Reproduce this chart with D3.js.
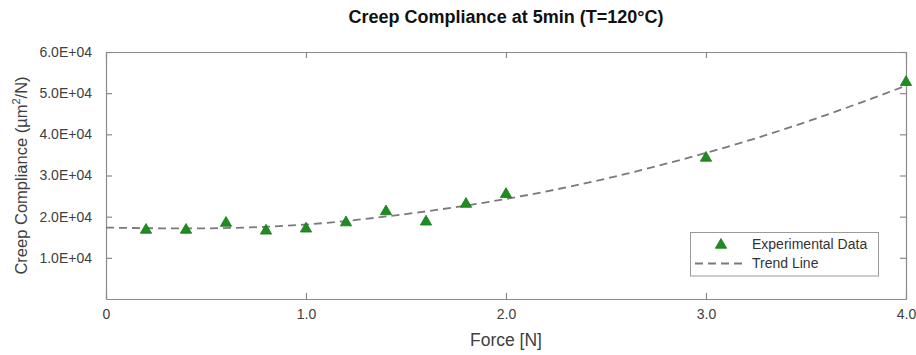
<!DOCTYPE html>
<meta charset="utf-8">
<style>
  body { margin: 0; background: #fff; }
  svg { display: block; font-family: "Liberation Sans", Arial, sans-serif; }
  .tick text { fill: #404040; font-size: 14px; }
</style>
<body>
<svg id="chart" width="916" height="355"></svg>
<script src="https://d3js.org/d3.v7.min.js"></script>
<script>
  // experimental points (force in N, compliance in um^2/N)
  const force = [0.2, 0.4, 0.6, 0.8, 1.0, 1.2, 1.4, 1.6, 1.8, 2.0, 3.0, 4.0];
  const compliance = [17000, 17000, 18700, 16800, 17300, 18800, 21500, 19000, 23300, 25700, 34500, 52900];

  // trend line
  const trendForce = [0, 0.5, 1.0, 1.5, 2.0, 2.5, 3.0, 3.5, 4.0];
  const trendCompliance = [17350, 17160, 18100, 20640, 24300, 29250, 35480, 43000, 51800];

  const xTicks = [0, 1, 2, 3, 4];
  const yTicks = [10000, 20000, 30000, 40000, 50000, 60000];

  const svg = d3.select("#chart");
  const m = { left: 106, right: 906, top: 52, bottom: 299 };

  const x = d3.scaleLinear().domain([0, 4]).range([m.left, m.right]);
  const y = d3.scaleLinear().domain([0, 60000]).range([m.bottom, m.top]);

  const axisColor = "#8a8a8a";
  const tickLen = 6;

  // axes (box with inward ticks, mirrored)
  const gx = svg.append("g").attr("transform", `translate(0,${m.bottom})`)
    .call(d3.axisBottom(x).tickValues(xTicks).tickSizeInner(-tickLen).tickSizeOuter(0).tickPadding(13)
      .tickFormat(d => d === 0 ? "0" : d.toFixed(1)));
  const gxTop = svg.append("g").attr("transform", `translate(0,${m.top})`)
    .call(d3.axisTop(x).tickValues(xTicks).tickSizeInner(-tickLen).tickSizeOuter(0).tickFormat(""));
  const gy = svg.append("g").attr("transform", `translate(${m.left},0)`)
    .call(d3.axisLeft(y).tickValues(yTicks).tickSizeInner(-tickLen).tickSizeOuter(0).tickPadding(14)
      .tickFormat(d => (d / 10000).toFixed(1) + "E+04"));
  const gyR = svg.append("g").attr("transform", `translate(${m.right},0)`)
    .call(d3.axisRight(y).tickValues(yTicks).tickSizeInner(-tickLen).tickSizeOuter(0).tickFormat(""));

  [gx, gxTop, gy, gyR].forEach(g => {
    g.select(".domain").attr("stroke", axisColor).attr("stroke-width", 1.2);
    g.selectAll(".tick line").attr("stroke", axisColor).attr("stroke-width", 1.2);
  });
  gx.selectAll(".tick text").attr("dy", "0.5em");

  // trend line
  const line = d3.line()
    .x((d, i) => x(trendForce[i]))
    .y(d => y(d))
    .curve(d3.curveNatural);

  svg.append("path")
    .datum(trendCompliance)
    .attr("d", line)
    .attr("fill", "none")
    .attr("stroke", "#7a7a7a")
    .attr("stroke-width", 1.8)
    .attr("stroke-dasharray", "8,5");

  // markers
  const tri = d3.symbol().type(d3.symbolTriangle).size(55);
  svg.append("g")
    .selectAll("path")
    .data(compliance)
    .join("path")
    .attr("transform", (d, i) => `translate(${x(force[i])},${y(d) + 1})`)
    .attr("d", tri)
    .attr("fill", "#1f8c22")
    .attr("stroke", "#187a1b")
    .attr("stroke-width", 0.8);

  // title and axis labels
  svg.append("text")
    .attr("x", (m.left + m.right) / 2).attr("y", 23)
    .attr("text-anchor", "middle")
    .attr("font-size", 18).attr("font-weight", "bold").attr("fill", "#111")
    .text("Creep Compliance at 5min (T=120°C)");

  svg.append("text")
    .attr("x", (m.left + m.right) / 2).attr("y", 346)
    .attr("text-anchor", "middle")
    .attr("font-size", 17.5).attr("fill", "#404040")
    .text("Force [N]");

  const yl = svg.append("text")
    .attr("transform", `translate(27,${(m.top + m.bottom) / 2}) rotate(-90)`)
    .attr("text-anchor", "middle")
    .attr("font-size", 16.5).attr("fill", "#404040");
  yl.append("tspan").text("Creep Compliance (µm");
  yl.append("tspan").attr("font-size", 11).attr("dy", -7).text("2");
  yl.append("tspan").attr("dy", 7).text("/N)");

  // legend
  const lg = svg.append("g");
  lg.append("rect")
    .attr("x", 690.5).attr("y", 232.5).attr("width", 188).attr("height", 43.5)
    .attr("fill", "#fff").attr("stroke", "#9a9a9a").attr("stroke-width", 1);
  lg.append("path")
    .attr("transform", "translate(721,245)")
    .attr("d", tri)
    .attr("fill", "#1f8c22").attr("stroke", "#187a1b").attr("stroke-width", 0.8);
  lg.append("line")
    .attr("x1", 695).attr("x2", 745).attr("y1", 263.5).attr("y2", 263.5)
    .attr("stroke", "#7a7a7a").attr("stroke-width", 1.8).attr("stroke-dasharray", "8,5");
  lg.append("text").attr("x", 752).attr("y", 249).attr("font-size", 14).attr("fill", "#333")
    .text("Experimental Data");
  lg.append("text").attr("x", 752).attr("y", 268).attr("font-size", 14).attr("fill", "#333")
    .text("Trend Line");
</script>
</body>
